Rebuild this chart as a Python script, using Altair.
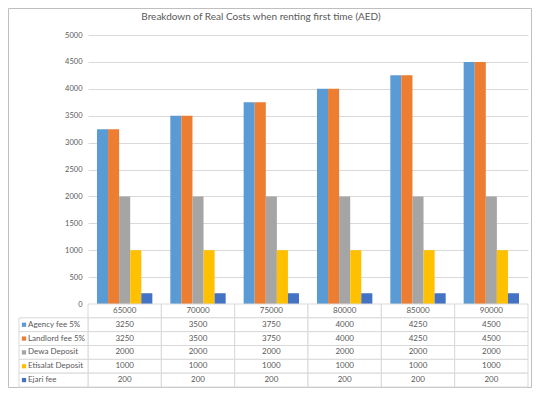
import altair as alt
import pandas as pd

title_text = "Breakdown of Real Costs when renting first time (AED)"
categories = ["65000", "70000", "75000", "80000", "85000", "90000"]
series_names = ["Agency fee 5%", "Landlord fee 5%", "Dewa Deposit", "Etisalat Deposit", "Ejari fee"]
agency = [3250, 3500, 3750, 4000, 4250, 4500]
landlord = [3250, 3500, 3750, 4000, 4250, 4500]
dewa = [2000, 2000, 2000, 2000, 2000, 2000]
etisalat = [1000, 1000, 1000, 1000, 1000, 1000]
ejari = [200, 200, 200, 200, 200, 200]
colors = ["#5B9BD5", "#ED7D31", "#A5A5A5", "#FFC000", "#4472C4"]
y_ticks = list(range(0, 5001, 500))

values = [agency, landlord, dewa, etisalat, ejari]
rows = []
for s, vals in zip(series_names, values):
    for c, v in zip(categories, vals):
        rows.append({"cat": c, "series": s, "value": v})
df = pd.DataFrame(rows)

HDR = " "
row_order = [HDR] + series_names
cells = [{"cat": c, "row": HDR, "txt": c} for c in categories]
for s, vals in zip(series_names, values):
    for c, v in zip(categories, vals):
        cells.append({"cat": c, "row": s, "txt": str(v)})
cells_df = pd.DataFrame(cells)
labels_df = pd.DataFrame({"row": series_names, "series": series_names})
title_df = pd.DataFrame({"t": [title_text]})

FONT = "Lato"
TXT = "#595959"
GRID = "#D9D9D9"
W = 440
H = 269
TH = 83

color_scale = alt.Scale(domain=series_names, range=colors)

bar_layer = alt.Chart(df).mark_bar().encode(
    x=alt.X("cat:N", sort=categories, axis=None,
            scale=alt.Scale(paddingInner=0.245, paddingOuter=0.1225)),
    xOffset=alt.XOffset("series:N", sort=series_names, scale=alt.Scale(paddingInner=0, paddingOuter=0)),
    y=alt.Y("value:Q", scale=alt.Scale(domain=[0, 5000], nice=False),
            axis=alt.Axis(values=y_ticks, format="d", title=None, domain=False, ticks=False,
                          grid=True, gridColor=GRID, labelFontSize=7.5, labelColor=TXT,
                          labelFont=FONT, labelPadding=6)),
    color=alt.Color("series:N", scale=color_scale, legend=None),
)
title_mark = alt.Chart(title_df).mark_text(font=FONT, fontSize=10, color=TXT, align="center",
                                           baseline="middle").encode(
    x=alt.value(173), y=alt.value(-18.5), text="t:N")
frame = alt.Chart(title_df).mark_rect(fill=None, stroke="#BFBFBF", strokeWidth=1).encode(
    x=alt.value(-79.5), x2=alt.value(W + 3.5), y=alt.value(-26.5), y2=alt.value(H + TH + 0.5))

bars = alt.layer(bar_layer, title_mark, frame).properties(width=W, height=H)

xs = alt.X("cat:N", sort=categories, axis=None, scale=alt.Scale(paddingInner=0, paddingOuter=0))
ys = alt.Y("row:N", sort=row_order, axis=None, scale=alt.Scale(domain=row_order, paddingInner=0, paddingOuter=0))

cell_rects = alt.Chart(cells_df).mark_rect(fill="white", stroke=GRID, strokeWidth=1).encode(x=xs, y=ys)
cell_text = alt.Chart(cells_df).mark_text(fontSize=8, color=TXT, font=FONT).encode(x=xs, y=ys, text="txt:N")
label_rects = alt.Chart(labels_df).mark_rect(fill="white", stroke=GRID, strokeWidth=1).encode(
    x=alt.value(-69), x2=alt.value(0), y=ys)
label_sq = alt.Chart(labels_df).mark_square(size=18, opacity=1).encode(
    x=alt.value(-64), y=ys, color=alt.Color("series:N", scale=color_scale, legend=None))
label_txt = alt.Chart(labels_df).mark_text(fontSize=8, color=TXT, font=FONT, align="left").encode(
    x=alt.value(-60), y=ys, text="row:N")

table = alt.layer(cell_rects, cell_text, label_rects, label_sq, label_txt).properties(width=W, height=TH)

chart = alt.vconcat(bars, table, spacing=0, bounds="flush").properties(
    padding={"left": 0, "top": 0, "right": 0, "bottom": 0},
).configure_view(stroke=None)

chart.save("out.html", embed_options={"renderer": "svg", "actions": False})
